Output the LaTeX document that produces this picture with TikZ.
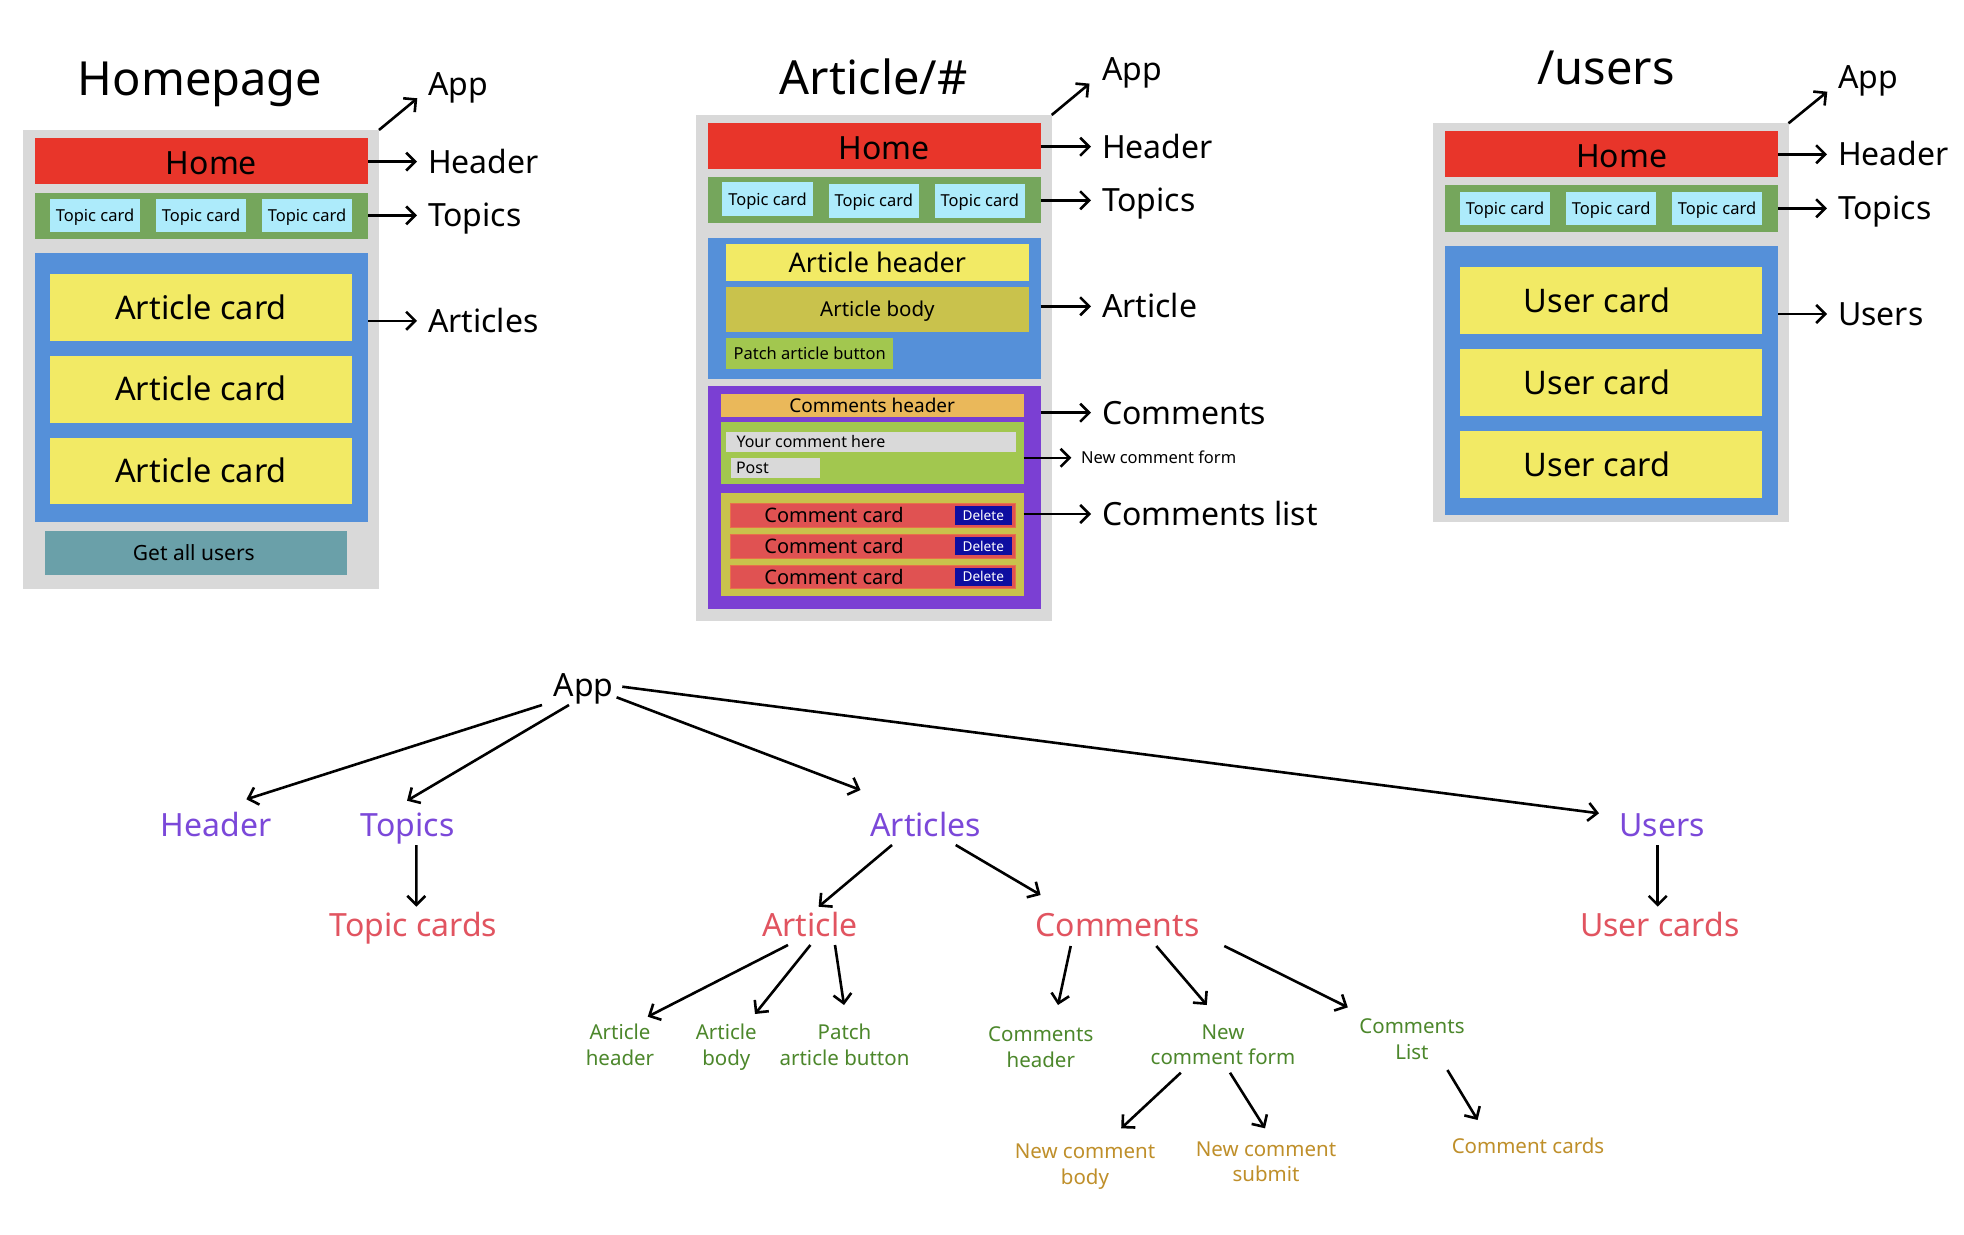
\documentclass[tikz,border=0pt]{standalone}
\usepackage{fontspec}
\setmainfont{Noto Sans}
\usetikzlibrary{arrows.meta,calc}
\definecolor{pgray}{HTML}{D9D9D9}
\definecolor{hdred}{HTML}{E8352A}
\definecolor{tgreen}{HTML}{75A65C}
\definecolor{tcyan}{HTML}{ADEBFB}
\definecolor{pblue}{HTML}{5590D9}
\definecolor{pyellow}{HTML}{F2EA65}
\definecolor{pteal}{HTML}{6AA0A9}
\definecolor{polive}{HTML}{C9C24C}
\definecolor{plgreen}{HTML}{A2C74F}
\definecolor{porange}{HTML}{EAB85A}
\definecolor{ppurple}{HTML}{7B3FD3}
\definecolor{cred}{HTML}{E05252}
\definecolor{credline}{HTML}{E8704A}
\definecolor{dblue}{HTML}{0E0EA0}
\definecolor{trpurple}{HTML}{7B48D9}
\definecolor{trred}{HTML}{E15460}
\definecolor{trgreen}{HTML}{4C872B}
\definecolor{trgold}{HTML}{BF8F2A}
\tikzset{
  bx/.style={inner sep=0pt, outer sep=0pt, draw=none},
  fs/.style 2 args={font=\fontsize{#1}{#1}\selectfont, text height=#2pt, text depth=0pt},
  txt/.style={inner sep=0pt, outer sep=0pt},
  lbl/.style={fs={32}{22.8}, anchor=west, inner sep=0pt, outer sep=0pt},
  ttl/.style={font=\fontsize{47}{47}\selectfont, anchor=base, inner sep=0pt},
  arr/.style={line width=2.6pt, -{Straight Barb[length=9pt,width=18pt]}},
  tone/.style={font=\fontsize{32}{32}\selectfont, anchor=base, inner sep=0pt},
  ttwo/.style={font=\fontsize{20.5}{25.7}\selectfont, align=center, anchor=base, inner sep=0pt},
  ccard/.style={fill=cred, draw=credline, line width=1pt},
}
\newcommand\rectnode[7]{%
  \pgfmathsetmacro\rw{#5-#3}\pgfmathsetmacro\rh{#6-#4}%
  \pgfmathsetmacro\rcx{(#3+#5)/2}\pgfmathsetmacro\rcy{(#4+#6)/2}%
  \node[bx,#1,minimum width=\rw pt,minimum height=\rh pt] (#2) at (\rcx,\rcy) {#7};}
\begin{document}
\begin{tikzpicture}[x=1pt,y=-1pt]
\path[use as bounding box, fill=white] (0,0) rectangle (1964,1234);

% ================= Homepage =================
\node[ttl] (hTitle) at (200,95.4) {Homepage};
\rectnode{fill=pgray}{hgray}{23}{130}{379}{589}{}
\rectnode{fill=hdred}{hred}{35}{138}{368}{184}{}
\node[txt,fs={32}{22.8}] (hredt) at ($(hred.center)+(10,2.5)$) {Home};
\rectnode{fill=tgreen}{hgreen}{35}{192.5}{368}{239}{}
\rectnode{fill=tcyan,fs={16.5}{11.8}}{htca}{50}{199}{140}{232}{Topic card}
\rectnode{fill=tcyan,fs={16.5}{11.8}}{htcb}{156}{199}{246}{232}{Topic card}
\rectnode{fill=tcyan,fs={16.5}{11.8}}{htcc}{262}{199}{352}{232}{Topic card}
\rectnode{fill=pblue}{hblue}{35}{252.5}{368}{521.5}{}
\rectnode{fill=pyellow,fs={32.5}{23.2}}{haca}{50}{274.3}{352}{340.8}{Article card}
\rectnode{fill=pyellow,fs={32.5}{23.2}}{hacb}{50}{356}{352}{422.6}{Article card}
\rectnode{fill=pyellow,fs={32.5}{23.2}}{hacc}{50}{438}{352}{504.4}{Article card}
\rectnode{fill=pteal}{hget}{45}{530.6}{346.6}{575.3}{}
\node[txt,fs={21}{15}] (hgett) at ($(hget.center)+(-2,0)$) {Get all users};

\node[lbl] (hlApp) at (428,84.5) {App};
\node[lbl] (hlHeader) at (428,161.6) {Header};
\node[lbl] (hlTopics) at (428,215.4) {Topics};
\node[lbl] (hlArticles) at (428,320.8) {Articles};
\draw[arr] (hgray.north east) -- ($(hlApp.west)+(-10.7,13.8)$);
\draw[arr] (hred.east |- hlHeader.west) -- ($(hlHeader.west)+(-11,0)$);
\draw[arr] (hgreen.east |- hlTopics.west) -- ($(hlTopics.west)+(-11,0)$);
\draw[arr] (hblue.east |- hlArticles.west) -- ($(hlArticles.west)+(-11,0)$);

% ================= Article/# =================
\node[ttl] (aTitle) at (873.7,94.3) {Article/\#};
\rectnode{fill=pgray}{agray}{696}{115}{1051.7}{621}{}
\rectnode{fill=hdred}{ared}{708}{123}{1040.7}{168.5}{}
\node[txt,fs={32}{22.8}] (aredt) at ($(ared.center)+(10,2.5)$) {Home};
\rectnode{fill=tgreen}{agreen}{708}{177.3}{1040.7}{223.2}{}
\rectnode{fill=tcyan,fs={16.5}{11.8}}{atca}{722}{182.3}{813}{216.4}{Topic card}
\rectnode{fill=tcyan,fs={16.5}{11.8}}{atcb}{828.6}{183.8}{919}{217.5}{Topic card}
\rectnode{fill=tcyan,fs={16.5}{11.8}}{atcc}{934.6}{183.8}{1025}{217.5}{Topic card}
\rectnode{fill=pblue}{ablue}{708}{237.8}{1040.7}{379.4}{}
\rectnode{fill=pyellow,fs={27}{19.3}}{aah}{726.3}{244.3}{1028.5}{280.6}{Article header}
\rectnode{fill=polive,fs={20.5}{14.6}}{aab}{726.3}{287.1}{1028.5}{331.5}{Article body}
\rectnode{fill=plgreen,fs={16.5}{11.8}}{apatch}{726.3}{338.4}{893}{369}{Patch article button}
\rectnode{fill=ppurple}{apurple}{708}{385.9}{1040.7}{609}{}
\rectnode{fill=porange,fs={19}{13.6}}{ach}{720.8}{393.5}{1023.5}{417.2}{Comments header}
\rectnode{fill=plgreen}{aform}{720.8}{421.5}{1023.5}{483.5}{}
\rectnode{fill=pgray}{ainput}{726.3}{431.8}{1015.5}{452}{}
\rectnode{fill=pgray}{apost}{730.5}{457.8}{819.7}{477.7}{}
\node[txt,fs={16}{11.4},anchor=west] (ainputt) at (736.5,442) {Your comment here};
\node[txt,fs={16}{11.4},anchor=west] (apostt) at (736,467.8) {Post};
\rectnode{fill=polive}{alist}{720.8}{493}{1023.5}{595.6}{}
\rectnode{ccard}{acca}{730.5}{503.3}{1015.5}{527.5}{}
\rectnode{ccard}{accb}{730.5}{534.3}{1015.5}{558}{}
\rectnode{ccard}{accc}{730.5}{565}{1015.5}{588.7}{}
\node[txt,fs={20}{14.3}] (accat) at (834,515.4) {Comment card};
\node[txt,fs={20}{14.3}] (accbt) at (834,546.2) {Comment card};
\node[txt,fs={20}{14.3}] (accct) at (834,576.9) {Comment card};
\rectnode{fill=dblue,text=white,fs={13.6}{9.7}}{adela}{954.9}{506.4}{1011.7}{524.8}{Delete}
\rectnode{fill=dblue,text=white,fs={13.6}{9.7}}{adelb}{954.9}{537.4}{1011.7}{555}{Delete}
\rectnode{fill=dblue,text=white,fs={13.6}{9.7}}{adelc}{954.9}{568}{1011.7}{586}{Delete}

\node[lbl] (alApp) at (1102,69.2) {App};
\node[lbl] (alHeader) at (1102,146.7) {Header};
\node[lbl] (alTopics) at (1102,200.3) {Topics};
\node[lbl] (alArticle) at (1102,306.3) {Article};
\node[lbl] (alComments) at (1102,412.7) {Comments};
\node[txt,fs={16.5}{11.8},anchor=west] (alForm) at (1081,457.8) {New comment form};
\node[lbl] (alList) at (1102,514) {Comments list};
\draw[arr] (agray.north east) -- ($(alApp.west)+(-12.5,14.4)$);
\draw[arr] (ared.east |- alHeader.west) -- ($(alHeader.west)+(-11,0)$);
\draw[arr] (agreen.east |- alTopics.west) -- ($(alTopics.west)+(-11,0)$);
\draw[arr] (ablue.east |- alArticle.west) -- ($(alArticle.west)+(-11,0)$);
\draw[arr] (apurple.east |- alComments.west) -- ($(alComments.west)+(-11,0)$);
\draw[arr] (aform.east |- alForm.west) -- ($(alForm.west)+(-9.6,0)$);
\draw[arr] (alist.east |- alList.west) -- ($(alList.west)+(-11,0)$);

% ================= /users =================
\node[ttl] (uTitle) at (1606,84) {/users};
\rectnode{fill=pgray}{ugray}{1433}{123.3}{1788.5}{521.7}{}
\rectnode{fill=hdred}{ured}{1445}{131}{1778.4}{176.7}{}
\node[txt,fs={32}{22.8}] (uredt) at ($(ured.center)+(10,2.5)$) {Home};
\rectnode{fill=tgreen}{ugreen}{1445}{185}{1778.4}{231.7}{}
\rectnode{fill=tcyan,fs={16.5}{11.8}}{utca}{1460}{192.3}{1550}{225}{Topic card}
\rectnode{fill=tcyan,fs={16.5}{11.8}}{utcb}{1566.2}{192.3}{1656.1}{225}{Topic card}
\rectnode{fill=tcyan,fs={16.5}{11.8}}{utcc}{1672}{192.3}{1761.9}{225}{Topic card}
\rectnode{fill=pblue}{ublue}{1445}{245.7}{1778.4}{515}{}
\rectnode{fill=pyellow}{uuca}{1460}{267.3}{1762}{334}{}
\rectnode{fill=pyellow}{uucb}{1460}{349}{1762}{416}{}
\rectnode{fill=pyellow}{uucc}{1460}{431}{1762}{497.7}{}
\node[txt,fs={32.5}{23.2}] (uucat) at ($(uuca.center)+(-14,0.5)$) {User card};
\node[txt,fs={32.5}{23.2}] (uucbt) at ($(uucb.center)+(-14,0.5)$) {User card};
\node[txt,fs={32.5}{23.2}] (uucct) at ($(uucc.center)+(-14,0.5)$) {User card};

\node[lbl] (ulApp) at (1838,77.2) {App};
\node[lbl] (ulHeader) at (1838,154.3) {Header};
\node[lbl] (ulTopics) at (1838,208.3) {Topics};
\node[lbl] (ulUsers) at (1838,314) {Users};
\draw[arr] (ugray.north east) -- ($(ulApp.west)+(-10.7,14.5)$);
\draw[arr] (ured.east |- ulHeader.west) -- ($(ulHeader.west)+(-11,0)$);
\draw[arr] (ugreen.east |- ulTopics.west) -- ($(ulTopics.west)+(-11,0)$);
\draw[arr] (ublue.east |- ulUsers.west) -- ($(ulUsers.west)+(-11,0)$);

% ================= Tree =================
\node[tone] (tApp) at (583.5,696) {App};
\node[tone,text=trpurple] (tHeader) at (216,836.7) {Header};
\node[tone,text=trpurple] (tTopics) at (407.7,836.7) {Topics};
\node[tone,text=trpurple] (tArticles) at (925.6,836.7) {Articles};
\node[tone,text=trpurple] (tUsers) at (1662,836.7) {Users};
\node[tone,text=trred] (tTopicCards) at (413.4,936.7) {Topic cards};
\node[tone,text=trred] (tArticle) at (809.8,936.7) {Article};
\node[tone,text=trred] (tComments) at (1117.5,936.7) {Comments};
\node[tone,text=trred] (tUserCards) at (1659.7,936.7) {User cards};
% two-line nodes: base anchor is the baseline of the last line
\node[ttwo,text=trgreen] (tAH) at (620,1065) {Article\\header};
\node[ttwo,text=trgreen] (tAB) at (726.3,1065) {Article\\body};
\node[ttwo,text=trgreen] (tPAB) at (844.5,1065) {Patch\\article button};
\node[ttwo,text=trgreen] (tCH) at (1040.8,1067.4) {Comments\\header};
\node[ttwo,text=trgreen] (tNCF) at (1223,1064.7) {New\\comment form};
\node[ttwo,text=trgreen] (tCL) at (1412,1059) {Comments\\List};
\node[ttwo,text=trgold] (tNCB) at (1085,1184) {New comment\\body};
\node[ttwo,text=trgold] (tNCS) at (1266,1181.7) {New comment\\submit};
\node[ttwo,text=trgold] (tCC) at (1528,1153.3) {Comment cards};

\draw[arr] ($(tApp.base)+(-41.5,9)$) -- ($(tHeader.base)+(30.4,-37.4)$);
\draw[arr] ($(tApp.base)+(-14.5,9)$) -- ($(tTopics.base)+(-0.7,-36)$);
\draw[arr] ($(tApp.base)+(33.1,1.3)$) -- ($(tArticles.base)+(-65.1,-46.7)$);
\draw[arr] ($(tApp.base)+(38.8,-9.3)$) -- ($(tUsers.base)+(-63,-23.4)$);
\draw[arr] ($(tTopics.base)+(8.6,8.3)$) -- ($(tTopicCards.base)+(2.9,-30)$);
\draw[arr] ($(tArticles.base)+(-33.6,8.3)$) -- ($(tArticle.base)+(8.8,-30)$);
\draw[arr] ($(tArticles.base)+(30.1,8.3)$) -- ($(tComments.base)+(-76.9,-41.7)$);
\draw[arr] ($(tUsers.base)+(-4.3,8.3)$) -- ($(tUserCards.base)+(-2,-30)$);
\draw[arr] ($(tArticle.base)+(-21.8,8.3)$) -- ($(tAH.base)+(27.7,-48.3)$);
\draw[arr] ($(tArticle.base)+(0.6,8.3)$) -- ($(tAB.base)+(28.7,-51)$);
\draw[arr] ($(tArticle.base)+(25.2,8.3)$) -- ($(tPAB.base)+(-0.5,-60)$);
\draw[arr] ($(tComments.base)+(-46.8,9.3)$) -- ($(tCH.base)+(17.2,-62.4)$);
\draw[arr] ($(tComments.base)+(38.8,9.3)$) -- ($(tNCF.base)+(-16.2,-59.7)$);
\draw[arr] ($(tComments.base)+(106.8,9.3)$) -- ($(tCL.base)+(-64.2,-51.7)$);
\draw[arr] ($(tNCF.base)+(-42.2,8)$) -- ($(tNCB.base)+(36.2,-55.7)$);
\draw[arr] ($(tNCF.base)+(7,8)$) -- ($(tNCS.base)+(-1,-53.4)$);
\draw[arr] ($(tCL.base)+(35.4,11)$) -- ($(tCC.base)+(-50.4,-33.3)$);
\end{tikzpicture}
\end{document}
